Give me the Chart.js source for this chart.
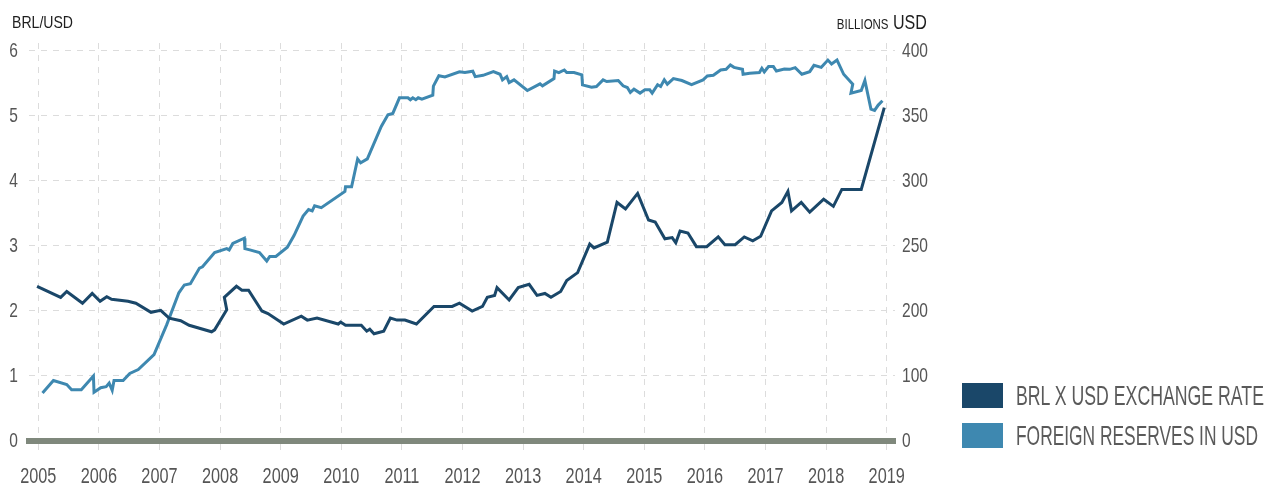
<!DOCTYPE html>
<html>
<head>
<meta charset="utf-8">
<script src="https://cdn.jsdelivr.net/npm/chart.js@4.4.1/dist/chart.umd.min.js"></script>
<style>
  html, body { margin: 0; padding: 0; background: #fff; }
  #wrap { position: relative; width: 1266px; height: 486px; overflow: hidden; }
  #chart { position: absolute; left: 0; top: 0; }
  .txt {
    position: absolute; white-space: nowrap; line-height: 1;
    font-family: "Liberation Sans", Arial, sans-serif;
  }
  .fit { display: inline-block; transform-origin: left center; }
  #titleL { left: 12px; top: 14px; font-size: 17px; color: #1e1e1e; }
  #titleR { right: 339px; top: 12.5px; font-size: 19.6px; color: #1e1e1e; font-variant: small-caps; }
  #titleR .fit { transform-origin: right center; }
  .swatch { position: absolute; left: 962px; width: 41px; height: 25px; }
  .legtxt { left: 1016px; font-size: 27.5px; color: #5a5a5a; }
</style>
</head>
<body>
<div id="wrap">
  <canvas id="chart" width="1266" height="486"></canvas>
  <div class="txt" id="titleL"><span class="fit" data-w="61">BRL/USD</span></div>
  <div class="txt" id="titleR"><span class="fit" data-w="90">billions USD</span></div>
  <div class="swatch" style="top:383px;background:#1a4769"></div>
  <div class="swatch" style="top:423px;background:#3e88b0"></div>
  <div class="txt legtxt" style="top:381.8px"><span class="fit" data-w="248">BRL X USD EXCHANGE RATE</span></div>
  <div class="txt legtxt" style="top:421.8px"><span class="fit" data-w="242">FOREIGN RESERVES IN USD</span></div>
</div>
<script>
// values
const years = [2005, 2006, 2007, 2008, 2009, 2010, 2011, 2012, 2013, 2014, 2015, 2016, 2017, 2018, 2019];
const rateTicks = [0, 1, 2, 3, 4, 5, 6];
const reserveTicks = [0, 100, 200, 250, 300, 350, 400];

const rateDates = [
  2004.98, 2005.37, 2005.47, 2005.73, 2005.89, 2006.02, 2006.13, 2006.21, 2006.48, 2006.61,
  2006.86, 2007.02, 2007.16, 2007.35, 2007.49, 2007.86, 2007.91, 2008.11, 2008.07, 2008.27,
  2008.36, 2008.47, 2008.69, 2008.79, 2009.05, 2009.34, 2009.44, 2009.60, 2009.95, 2009.99,
  2010.07, 2010.33, 2010.42, 2010.47, 2010.54, 2010.70, 2010.81, 2010.92, 2011.05, 2011.24,
  2011.53, 2011.83, 2011.95, 2012.16, 2012.33, 2012.41, 2012.53, 2012.57, 2012.77, 2012.92,
  2013.10, 2013.23, 2013.36, 2013.46, 2013.62, 2013.72, 2013.90, 2014.10, 2014.17, 2014.39,
  2014.55, 2014.69, 2014.89, 2015.07, 2015.18, 2015.34, 2015.46, 2015.52, 2015.59, 2015.72,
  2015.86, 2016.03, 2016.22, 2016.33, 2016.50, 2016.65, 2016.79, 2016.92, 2017.10, 2017.27,
  2017.37, 2017.43, 2017.59, 2017.73, 2017.96, 2018.12, 2018.26, 2018.58, 2018.96
];
const rateValues = [
  2.38, 2.21, 2.30, 2.12, 2.27, 2.15, 2.22, 2.18, 2.15, 2.12,
  1.98, 2.01, 1.89, 1.85, 1.78, 1.68, 1.71, 2.02, 2.21, 2.38,
  2.32, 2.32, 2.00, 1.96, 1.80, 1.92, 1.86, 1.89, 1.80, 1.83,
  1.78, 1.78, 1.69, 1.72, 1.65, 1.69, 1.89, 1.86, 1.86, 1.80,
  2.07, 2.07, 2.12, 2.00, 2.07, 2.21, 2.24, 2.36, 2.17, 2.36,
  2.41, 2.24, 2.27, 2.21, 2.30, 2.47, 2.59, 3.03, 2.97, 3.06,
  3.67, 3.57, 3.81, 3.40, 3.37, 3.11, 3.13, 3.05, 3.23, 3.20,
  2.99, 2.99, 3.14, 3.02, 3.02, 3.14, 3.08, 3.15, 3.54, 3.67,
  3.84, 3.54, 3.67, 3.52, 3.72, 3.61, 3.87, 3.87, 5.13
];

const reserveDates = [
  2005.07, 2005.25, 2005.47, 2005.55, 2005.71, 2005.91, 2005.92, 2006.03, 2006.12, 2006.17,
  2006.22, 2006.25, 2006.40, 2006.51, 2006.65, 2006.91, 2007.12, 2007.32, 2007.41, 2007.51,
  2007.66, 2007.71, 2007.91, 2008.11, 2008.15, 2008.21, 2008.40, 2008.41, 2008.49, 2008.65,
  2008.77, 2008.82, 2008.92, 2009.11, 2009.22, 2009.37, 2009.46, 2009.52, 2009.56, 2009.67,
  2010.06, 2010.07, 2010.17, 2010.27, 2010.32, 2010.43, 2010.66, 2010.77, 2010.85, 2010.96,
  2011.10, 2011.14, 2011.18, 2011.23, 2011.27, 2011.33, 2011.51, 2011.52, 2011.61, 2011.71,
  2011.95, 2012.04, 2012.17, 2012.21, 2012.34, 2012.51, 2012.62, 2012.66, 2012.73, 2012.77,
  2012.85, 2013.07, 2013.28, 2013.32, 2013.51, 2013.52, 2013.59, 2013.68, 2013.72, 2013.84,
  2013.97, 2013.98, 2014.13, 2014.21, 2014.32, 2014.38, 2014.57, 2014.65, 2014.72, 2014.77,
  2014.83, 2014.93, 2015.01, 2015.09, 2015.13, 2015.22, 2015.27, 2015.33, 2015.38, 2015.48,
  2015.62, 2015.78, 2015.97, 2016.04, 2016.14, 2016.26, 2016.35, 2016.42, 2016.48, 2016.62,
  2016.63, 2016.74, 2016.90, 2016.94, 2016.98, 2017.05, 2017.13, 2017.18, 2017.31, 2017.40,
  2017.49, 2017.60, 2017.73, 2017.80, 2017.92, 2018.03, 2018.09, 2018.18, 2018.29, 2018.44,
  2018.41, 2018.58, 2018.64, 2018.74, 2018.80, 2018.86, 2018.93
];
const reserveValues = [
  74, 93, 87, 79, 79, 100, 75, 82, 83.5, 89,
  78, 93, 93, 104, 110, 133, 179, 214, 220, 221,
  233, 234, 245, 248, 247, 252, 256, 248, 247, 245,
  238.5, 242, 242, 249, 258, 273, 278, 277, 281, 279.5,
  292, 295.5, 295.5, 317, 314, 317, 342, 351, 352, 364,
  364, 362.5, 364, 362.5, 364, 363, 366, 373, 381, 380,
  384, 383.4, 384.4, 380.3, 381.3, 384.1, 382.1, 377.8, 380.3, 375.7,
  377.8, 369.6, 374.7, 373.2, 378.8, 384.6, 383.4, 385.4, 383.4, 383.4,
  381.6, 373.9, 372.1, 372.7, 377.8, 376.5, 377.3, 373.2, 371.9, 368.1,
  370.6, 367.6, 370.1, 370.1, 367.6, 374.0, 372.7, 377.8, 374.5, 378.8,
  377.3, 374.2, 377.8, 380.8, 381.3, 385.4, 385.9, 389.2, 387.4, 385.9,
  382.1, 382.9, 383.4, 386.7, 383.9, 388.0, 388.0, 384.6, 386.2, 385.9,
  387.2, 382.1, 384.1, 389.0, 387.4, 393.0, 390.0, 393.0, 382.1, 374.5,
  367.6, 369.6, 377.3, 355.3, 354.3, 358.4, 361.7
];

const DARK = "#1a4769";
const LIGHT = "#3e88b0";
const GRID = "#dcdcdc";
const BASE = "#7f887c";
const RATE_TOP = 6.123;
const SQUEEZE = 0.74; // the picture uses a condensed face for the tick labels

// linear scale whose tick labels are drawn horizontally condensed
class NarrowLinear extends Chart.LinearScale {
  static id = "narrow";
  static defaults = Chart.LinearScale.defaults;

  drawLabels(chartArea) {
    const ctx = this.ctx;
    const fillText = ctx.fillText;
    ctx.fillText = function (text, x, y, maxWidth) {
      this.save();
      this.scale(SQUEEZE, 1);
      fillText.call(this, text, x / SQUEEZE, y, maxWidth);
      this.restore();
    };
    super.drawLabels(chartArea);
    ctx.fillText = fillText;
  }
}

// right axis: its labels sit at equal steps, so the scale is linear between them
class StepScale extends NarrowLinear {
  static id = "step";
  static defaults = Chart.LinearScale.defaults;

  toStep(v) {
    const b = reserveTicks;
    for (let i = 1; i < b.length; i++) {
      if (v <= b[i] || i === b.length - 1) return i - 1 + (v - b[i - 1]) / (b[i] - b[i - 1]);
    }
  }
  buildTicks() {
    return reserveTicks.map((value) => ({ value }));
  }
  getPixelForValue(value) {
    if (value === null || value === undefined) return NaN;
    const s0 = this.toStep(this.min);
    const s1 = this.toStep(this.max);
    return this.getPixelForDecimal((this.toStep(value) - s0) / (s1 - s0));
  }
  getValueForPixel(pixel) {
    const s0 = this.toStep(this.min);
    const s1 = this.toStep(this.max);
    const s = s0 + this.getDecimalForPixel(pixel) * (s1 - s0);
    const b = reserveTicks;
    const i = Math.min(Math.max(Math.floor(s), 0), b.length - 2);
    return b[i] + (s - i) * (b[i + 1] - b[i]);
  }
}
Chart.register(NarrowLinear, StepScale);

const fontFamily = '"Liberation Sans", Arial, sans-serif';
const points = (xs, ys) => xs.map((x, i) => ({ x, y: ys[i] }));
const last = reserveTicks.length - 1;
const reserveTop = reserveTicks[last] + (RATE_TOP - last) * (reserveTicks[last] - reserveTicks[last - 1]);

new Chart(document.getElementById("chart"), {
  type: "line",
  data: {
    datasets: [
      {
        label: "BRL X USD EXCHANGE RATE",
        data: points(rateDates, rateValues),
        yAxisID: "y",
        borderColor: DARK,
        borderWidth: 3,
        pointRadius: 0,
        tension: 0
      },
      {
        label: "FOREIGN RESERVES IN USD",
        data: points(reserveDates, reserveValues),
        yAxisID: "yR",
        borderColor: LIGHT,
        borderWidth: 3,
        pointRadius: 0,
        tension: 0
      }
    ]
  },
  options: {
    responsive: false,
    animation: false,
    layout: { padding: { top: 43, left: 0, right: 0, bottom: 0 } },
    plugins: { legend: { display: false }, tooltip: { enabled: false } },
    scales: {
      x: {
        type: "narrow",
        min: 2004.847,
        max: 2019.137,
        afterBuildTicks(scale) { scale.ticks = years.map((value) => ({ value })); },
        afterFit(scale) { scale.height = 45; },
        grid: { color: GRID, lineWidth: 1, tickLength: 15, tickColor: GRID, tickBorderDash: [6, 6] },
        border: { display: true, color: BASE, width: 6, dash: [6, 6] },
        ticks: {
          color: "#555",
          padding: 8,
          maxRotation: 0,
          autoSkip: false,
          font: { family: fontFamily, size: 22 },
          callback: (v) => String(v)
        }
      },
      y: {
        type: "narrow",
        position: "left",
        min: 0,
        max: RATE_TOP,
        afterBuildTicks(scale) { scale.ticks = rateTicks.map((value) => ({ value })); },
        afterFit(scale) { scale.width = 29; },
        grid: { color: GRID, lineWidth: 1, drawTicks: false },
        border: { display: false, dash: [6, 6] },
        ticks: {
          color: "#555",
          padding: 11,
          font: { family: fontFamily, size: 21 },
          callback: (v) => String(v)
        }
      },
      yR: {
        type: "step",
        position: "right",
        min: 0,
        max: reserveTop,
        afterFit(scale) { scale.width = 371; },
        grid: { display: false, drawTicks: false },
        border: { display: false },
        ticks: {
          color: "#555",
          padding: 7,
          font: { family: fontFamily, size: 21 },
          callback: (v) => String(v)
        }
      }
    }
  }
});

// squeeze the html labels to the widths seen in the picture
document.querySelectorAll(".fit").forEach((el) => {
  const w = el.getBoundingClientRect().width;
  const target = Number(el.dataset.w);
  if (w > 0) el.style.transform = `scaleX(${target / w})`;
});
</script>
</body>
</html>
